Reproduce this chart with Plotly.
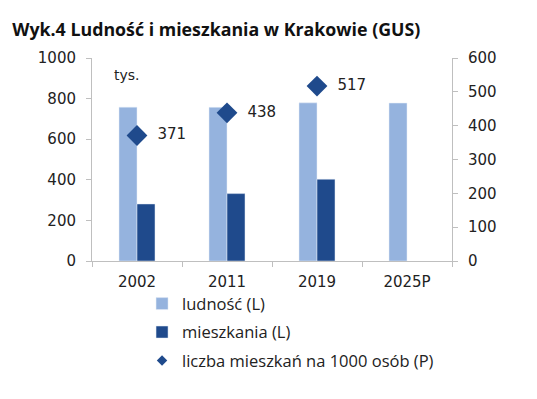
import plotly.graph_objects as go

categories = ["2002", "2011", "2019", "2025P"]
ludnosc = [758, 757, 779, 778]
mieszkania = [281, 332, 403, None]
na_1000 = [371, 438, 517, None]

light = "#95B3DE"
dark = "#1F4A8C"
num_font = "DejaVu Sans"
txt_font = "Open Sans"

W, H = 529, 391  # page body has an 8px margin

fig = go.Figure()
fig.add_trace(go.Bar(x=categories, y=ludnosc, name="ludność (L)", marker_color=light,
                     legendgroup="a"))
fig.add_trace(go.Bar(x=categories, y=mieszkania, name="mieszkania (L)", marker_color=dark,
                     legendgroup="b"))
fig.add_trace(go.Scatter(x=categories, y=na_1000, name="liczba mieszkań na 1000 osób (P)",
                         mode="markers+text", yaxis="y2", legendgroup="c", showlegend=False,
                         marker=dict(symbol="diamond", size=16, color=dark),
                         text=[f"  {v}" if v is not None else "" for v in na_1000],
                         textposition="middle right",
                         textfont=dict(family=num_font, size=15, color="#222")))
# legend entry with the smaller legend symbol
fig.add_trace(go.Scatter(x=[None], y=[None], name="liczba mieszkań na 1000 osób (P)",
                         mode="markers", yaxis="y2", legendgroup="c",
                         marker=dict(symbol="diamond", size=8, color=dark)))

fig.update_layout(
    width=W, height=H,
    margin=dict(l=84, r=85, t=50, b=138),
    paper_bgcolor="white", plot_bgcolor="white",
    barmode="group", bargap=0.6, bargroupgap=0,
    showlegend=True,
    legend=dict(x=0.139, y=-0.125, xanchor="left", yanchor="top",
                font=dict(family=txt_font, size=16.5, color="#222"),
                tracegroupgap=4, itemwidth=30, traceorder="grouped",
                itemsizing="trace",
                bgcolor="rgba(0,0,0,0)"),
    title=dict(text="<b>Wyk.4 Ludność i mieszkania w Krakowie (GUS)</b>",
               x=0.008, xref="container", xanchor="left",
               y=(H - 22) / H, yref="container", yanchor="middle",
               font=dict(family=txt_font, size=17.8, color="#111")),
    xaxis=dict(type="category", showline=True, linecolor="#BFBFBF", linewidth=1,
               ticks="outside", tickson="boundaries", tickcolor="#BFBFBF", ticklen=5,
               ticklabelstandoff=7,
               tickfont=dict(family=num_font, size=15, color="#222"),
               showgrid=False),
    yaxis=dict(range=[0, 1000], dtick=200, showline=True, linecolor="#BFBFBF",
               ticks="outside", tickcolor="#BFBFBF", ticklen=5, showgrid=False,
               ticklabelstandoff=7,
               zeroline=False, tickfont=dict(family=num_font, size=15, color="#222")),
    yaxis2=dict(range=[0, 600], dtick=100, overlaying="y", side="right",
                showline=True, linecolor="#BFBFBF", ticks="outside", tickcolor="#BFBFBF",
                ticklen=5, showgrid=False, zeroline=False, ticklabelstandoff=7,
                tickfont=dict(family=num_font, size=15, color="#222")),
    annotations=[dict(text="tys.", x=0.055, y=0.916, xref="paper", yref="paper",
                      xanchor="left", yanchor="middle", showarrow=False,
                      font=dict(family=num_font, size=14, color="#222"))],
)

fig.write_html("out.html")
